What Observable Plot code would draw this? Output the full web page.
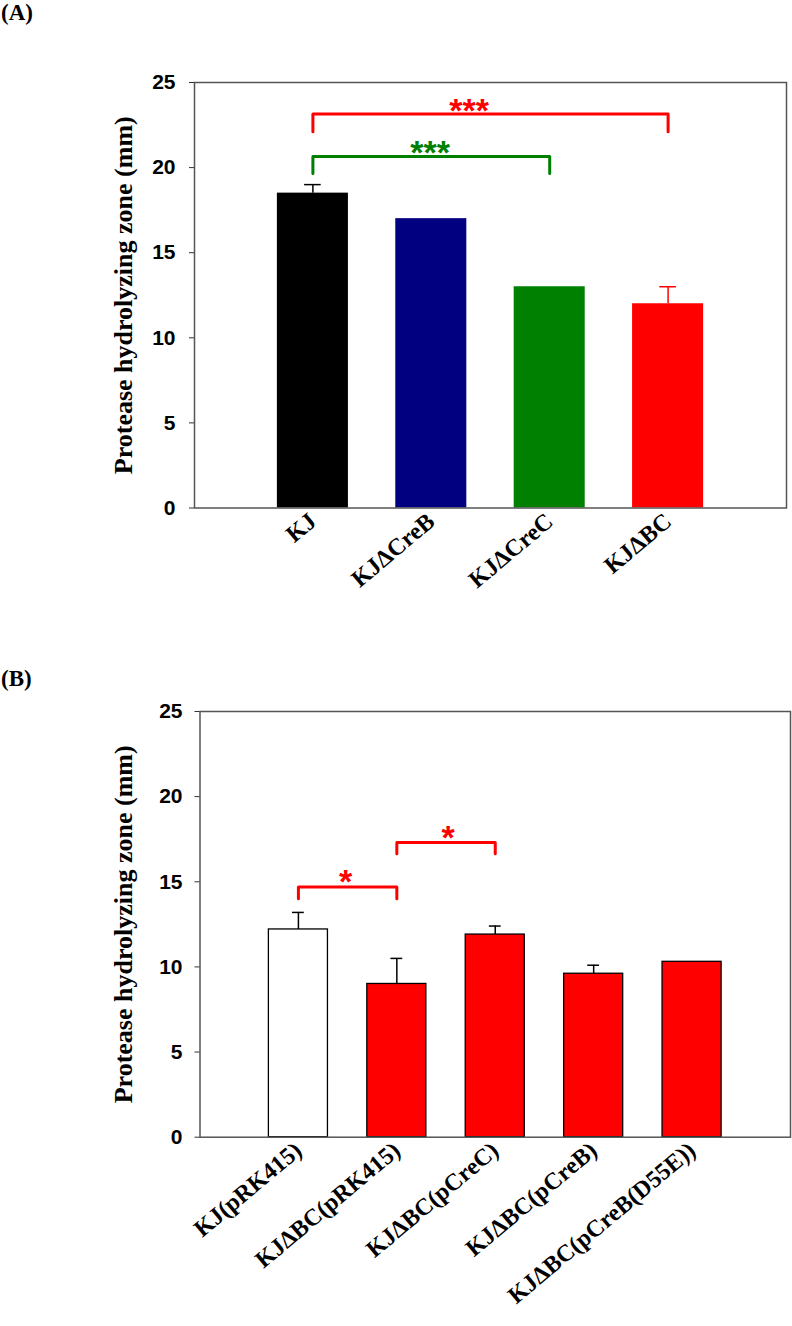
<!DOCTYPE html>
<html><head><meta charset="utf-8">
<script src="https://cdn.jsdelivr.net/npm/d3@7"></script>
<script src="https://cdn.jsdelivr.net/npm/@observablehq/plot@0.6"></script>
<style>
body{margin:0;background:#fff;}
#wrap{position:relative;width:792px;height:1326px;overflow:hidden;background:#fff;}
.panel{position:absolute;left:0;}
.plabel{position:absolute;left:1px;z-index:2;font:bold 23px "Liberation Serif","Times New Roman",serif;line-height:26px;color:#000;}
</style></head><body>
<div id="wrap">
<div class="panel" id="pa" style="top:0px"></div>
<div class="panel" id="pb" style="top:640px"></div>
<div class="plabel" style="top:0px">(A)</div>
<div class="plabel" style="top:666px">(B)</div>
</div>
<script>
// ---------- Data ----------
const yTicks = [0, 5, 10, 15, 20, 25];
const yTitle = "Protease hydrolyzing zone (mm)";

// Panel A
const catsA = ["KJ", "KJΔCreB", "KJΔCreC", "KJΔBC"];
const valsA = [18.5, 17.0, 13.0, 12.0];
const errsA = [0.5, 0, 0, 1.0];
const fillsA = ["#000000", "#000080", "#008000", "#ff0000"];
const errColorsA = ["#000000", "#000000", "#000000", "#ff0000"];
// significance brackets (x in category positions, y in mm)
const brFromA = [1, 1];
const brToA = [4, 3];
const brYA = [23.15, 20.65];
const brLegA = [22.1, 19.65];
const brLabelA = ["***", "***"];
const brLabelXA = [2.32, 1.99];
const brLabelYA = [23.75, 21.3];
const brColorsA = ["#ff0000", "#008000"];

// Panel B
const catsB = ["KJ(pRK415)", "KJΔBC(pRK415)", "KJΔBC(pCreC)", "KJΔBC(pCreB)", "KJΔBC(pCreB(D55E))"];
const valsB = [12.2, 9.0, 11.9, 9.6, 10.3];
const errsB = [1.0, 1.5, 0.5, 0.5, 0];
const fillsB = ["#ffffff", "#ff0000", "#ff0000", "#ff0000", "#ff0000"];
const errColorsB = ["#000000", "#000000", "#000000", "#000000", "#000000"];
const brFromB = [1, 2];
const brToB = [2, 3];
const brYB = [14.7, 17.3];
const brLegB = [14.0, 16.65];
const brLabelB = ["*", "*"];
const brLabelXB = [1.48, 2.52];
const brLabelYB = [15.4, 18.0];
const brColorsB = ["#ff0000", "#ff0000"];

// ---------- Drawing ----------
function panel(o) {
  const n = o.cats.length;
  const idx = d3.range(n);
  const bars = idx.map(i => ({pos: i + 1, v: o.vals[i], e: o.errs[i], fill: o.fills[i], ec: o.errColors[i]}));
  const withErr = bars.filter(d => d.e > 0);
  const brPts = [];
  o.brFrom.forEach((f, k) => {
    const t = o.brTo[k];
    [[f, o.brLeg[k]], [f, o.brY[k]], [t, o.brY[k]], [t, o.brLeg[k]]]
      .forEach(([x, y]) => brPts.push({x, y, k, c: o.brColors[k]}));
  });
  const labels = o.brLabel.map((t, k) => ({t, x: o.brLabelX[k], y: o.brLabelY[k], c: o.brColors[k]}));
  const barW = 0.3;
  return Plot.plot({
    width: 792,
    height: o.height,
    marginTop: o.marginTop,
    marginBottom: o.marginBottom,
    marginLeft: o.marginLeft,
    marginRight: o.marginRight,
    x: {domain: [0, n + 1], axis: null},
    y: {domain: [0, 25], axis: null},
    color: {type: "identity"},
    style: {background: "transparent", overflow: "visible"},
    marks: [
      Plot.rect(bars, {x1: d => d.pos - barW, x2: d => d.pos + barW, y1: 0, y2: "v", fill: "fill",
        stroke: o.barStroke, strokeWidth: o.barStrokeWidth}),
      Plot.ruleX(withErr, {x: "pos", y1: "v", y2: d => d.v + d.e, stroke: "ec", strokeWidth: 1.5}),
      Plot.ruleY(withErr, {y: d => d.v + d.e, x1: d => d.pos - o.cap, x2: d => d.pos + o.cap, stroke: "ec", strokeWidth: 1.5}),
      Plot.line(brPts, {x: "x", y: "y", z: "k", stroke: "c", strokeWidth: 3, strokeLinejoin: "round", curve: "linear"}),
      Plot.text(labels, {x: "x", y: "y", text: "t", fill: "c", fontSize: 34, fontWeight: "bold",
        fontFamily: "Liberation Sans, Arial, sans-serif", dy: 7.5, letterSpacing: 4}),
      Plot.frame({stroke: "#555", strokeWidth: 1.5}),
      Plot.axisY({ticks: yTicks, tickSize: 5, tickPadding: o.tickPad, label: null, fontSize: 21, fontWeight: "bold",
        fontFamily: "Liberation Sans, Arial, sans-serif", stroke: "#333"}),
      Plot.axisX({ticks: d3.range(1, n + 1), tickFormat: d => o.cats[d - 1], tickRotate: -40, tickSize: 0,
        tickPadding: 10, label: null, fontSize: 24, fontWeight: "bold",
        fontFamily: "Liberation Serif, Times New Roman, serif"}),
      Plot.text([yTitle], {frameAnchor: "left", textAnchor: "middle", rotate: -90, dx: o.titleDx, fontSize: 26,
        fontWeight: "bold", fontFamily: "Liberation Serif, Times New Roman, serif", fill: "#000"})
    ]
  });
}

document.getElementById("pa").append(panel({
  cats: catsA, vals: valsA, errs: errsA, fills: fillsA, errColors: errColorsA,
  brFrom: brFromA, brTo: brToA, brY: brYA, brLeg: brLegA, brLabel: brLabelA,
  brLabelX: brLabelXA, brLabelY: brLabelYA, brColors: brColorsA,
  height: 640, marginTop: 82, marginBottom: 132.5, marginLeft: 194, marginRight: 6,
  cap: 0.07, barStroke: "none", barStrokeWidth: 0, tickPad: 14, titleDx: -70.5
}));

document.getElementById("pb").append(panel({
  cats: catsB, vals: valsB, errs: errsB, fills: fillsB, errColors: errColorsB,
  brFrom: brFromB, brTo: brToB, brY: brYB, brLeg: brLegB, brLabel: brLabelB,
  brLabelX: brLabelXB, brLabelY: brLabelYB, brColors: brColorsB,
  height: 686, marginTop: 71, marginBottom: 189.3, marginLeft: 199.5, marginRight: 2,
  cap: 0.06, barStroke: "#000", barStrokeWidth: 1.3, tickPad: 12.5, titleDx: -76
}));
</script>
</body></html>
